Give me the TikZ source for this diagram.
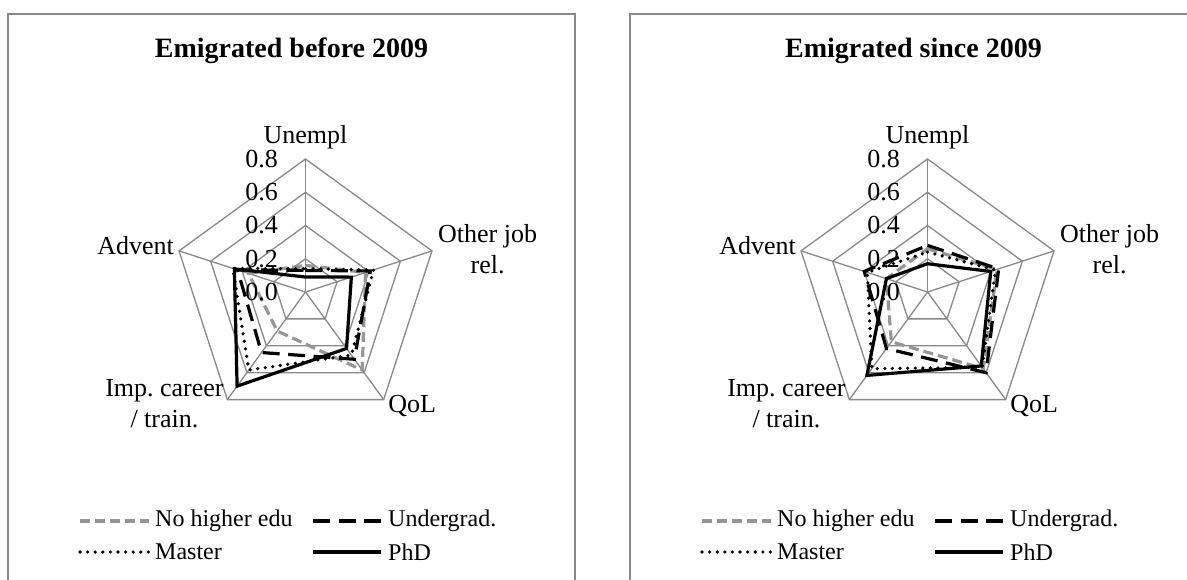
\documentclass[tikz,border=0pt]{standalone}
\usepackage{fontspec}
\setmainfont{Liberation Serif}
\frenchspacing
\definecolor{gridgray}{RGB}{137,137,137}
\definecolor{noedugray}{RGB}{150,150,150}

\begin{document}
\begin{tikzpicture}[x=1pt, y=-1pt,
    frame/.style={draw=gridgray, line width=1.8pt},
    grid/.style={draw=gridgray, line width=1.3pt},
    noedu/.style={draw=noedugray, line width=3.2pt, dash pattern=on 10pt off 5pt},
    undergrad/.style={draw=black, line width=3.2pt, dash pattern=on 17pt off 8.5pt},
    master/.style={draw=black, line width=3.6pt, line cap=round, dash pattern=on 0pt off 7.6pt},
    phd/.style={draw=black, line width=3.2pt},
    title/.style={font=\fontsize{28}{32}\selectfont\bfseries, anchor=base, inner sep=0pt},
    axislabel/.style={font=\fontsize{26}{31}\selectfont, align=center, inner sep=0pt},
    tick/.style={font=\fontsize{26}{30}\selectfont, anchor=east, inner sep=0pt, xshift=-27.5pt},
    legend/.style={font=\fontsize{24}{28}\selectfont, anchor=west, inner sep=0pt}
]
    \useasboundingbox (0,0) rectangle (1187,580);
    \clip (0,0) rectangle (1187,580);

    % Left panel: before 2009
    \draw[frame] (8,14) rectangle (575,600);
    \node[title] (L-title) at (291.5,58) {Emigrated before 2009};
    \begin{scope}[shift={(305.5,292)}, x=166.25pt, y=-166.25pt]
        % Grid
        \foreach \r in {0.2,0.4,0.6,0.8}
            \draw[grid] (-90:\r) -- (-18:\r) -- (54:\r) -- (126:\r) -- (198:\r) -- cycle;
        \foreach \a in {-90,-18,54,126,198}
            \draw[grid] (0,0) -- (\a:0.8);
        % Series
        \draw[noedu] (-90:0.16) -- (-18:0.38) -- (54:0.58) -- (126:0.29) -- (198:0.36) -- cycle;
        \draw[undergrad] (-90:0.13) -- (-18:0.41) -- (54:0.50) -- (126:0.45) -- (198:0.43) -- cycle;
        \draw[master] (-90:0.14) -- (-18:0.43) -- (54:0.47) -- (126:0.58) -- (198:0.46) -- cycle;
        \draw[phd] (-90:0.09) -- (-18:0.29) -- (54:0.42) -- (126:0.70) -- (198:0.45) -- cycle;
        % Ticks
        \foreach \v [count=\k] in {0.0,0.2,0.4,0.6,0.8}
            \node[tick] (L-tick\k) at (-90:\v) {\v};
        % Axis labels
        \node[axislabel, anchor=base, yshift=15pt] (L-unempl) at (-90:0.8) {Unempl};
        \node[axislabel, anchor=west, xshift=6pt, yshift=2pt] (L-otherjob) at (-18:0.8) {Other job\\rel.};
        \node[axislabel, anchor=base west, xshift=4.5pt, yshift=-13pt] (L-qol) at (54:0.8) {QoL};
        \node[axislabel, anchor=east, xshift=-3.5pt, yshift=-4pt] (L-career) at (126:0.8) {Imp. career\\/ train.};
        \node[axislabel, anchor=base east, xshift=-5pt, yshift=-4pt] (L-advent) at (198:0.8) {Advent};
    \end{scope}
    % Legend
    \draw[noedu] (80,521) -- (149,521);
    \node[legend] (L-lg-noedu) at (155,521) {No higher edu};
    \draw[undergrad] (313,521) -- (381,521);
    \node[legend] (L-lg-undergrad) at (388,521) {Undergrad.};
    \draw[master] (80,552) -- (149,552);
    \node[legend] (L-lg-master) at (155,552) {Master};
    \draw[phd] (313,552) -- (381,552);
    \node[legend] (L-lg-phd) at (388,552) {PhD};

    % Right panel: since 2009
    \begin{scope}[shift={(622,0)}]
    \draw[frame] (8,14) rectangle (575,600);
    \node[title] (R-title) at (291.5,58) {Emigrated since 2009};
    \begin{scope}[shift={(305.5,292)}, x=166.25pt, y=-166.25pt]
        % Grid
        \foreach \r in {0.2,0.4,0.6,0.8}
            \draw[grid] (-90:\r) -- (-18:\r) -- (54:\r) -- (126:\r) -- (198:\r) -- cycle;
        \foreach \a in {-90,-18,54,126,198}
            \draw[grid] (0,0) -- (\a:0.8);
        % Series
        \draw[noedu] (-90:0.26) -- (-18:0.44) -- (54:0.57) -- (126:0.37) -- (198:0.26) -- cycle;
        \draw[undergrad] (-90:0.28) -- (-18:0.45) -- (54:0.60) -- (126:0.42) -- (198:0.40) -- cycle;
        \draw[master] (-90:0.24) -- (-18:0.43) -- (54:0.56) -- (126:0.57) -- (198:0.38) -- cycle;
        \draw[phd] (-90:0.17) -- (-18:0.40) -- (54:0.55) -- (126:0.62) -- (198:0.26) -- cycle;
        % Ticks
        \foreach \v [count=\k] in {0.0,0.2,0.4,0.6,0.8}
            \node[tick] (R-tick\k) at (-90:\v) {\v};
        % Axis labels
        \node[axislabel, anchor=base, yshift=15pt] (R-unempl) at (-90:0.8) {Unempl};
        \node[axislabel, anchor=west, xshift=6pt, yshift=2pt] (R-otherjob) at (-18:0.8) {Other job\\rel.};
        \node[axislabel, anchor=base west, xshift=4.5pt, yshift=-13pt] (R-qol) at (54:0.8) {QoL};
        \node[axislabel, anchor=east, xshift=-3.5pt, yshift=-4pt] (R-career) at (126:0.8) {Imp. career\\/ train.};
        \node[axislabel, anchor=base east, xshift=-5pt, yshift=-4pt] (R-advent) at (198:0.8) {Advent};
    \end{scope}
    % Legend
    \draw[noedu] (80,521) -- (149,521);
    \node[legend] (R-lg-noedu) at (155,521) {No higher edu};
    \draw[undergrad] (313,521) -- (381,521);
    \node[legend] (R-lg-undergrad) at (388,521) {Undergrad.};
    \draw[master] (80,552) -- (149,552);
    \node[legend] (R-lg-master) at (155,552) {Master};
    \draw[phd] (313,552) -- (381,552);
    \node[legend] (R-lg-phd) at (388,552) {PhD};
    \end{scope}
\end{tikzpicture}
\end{document}
